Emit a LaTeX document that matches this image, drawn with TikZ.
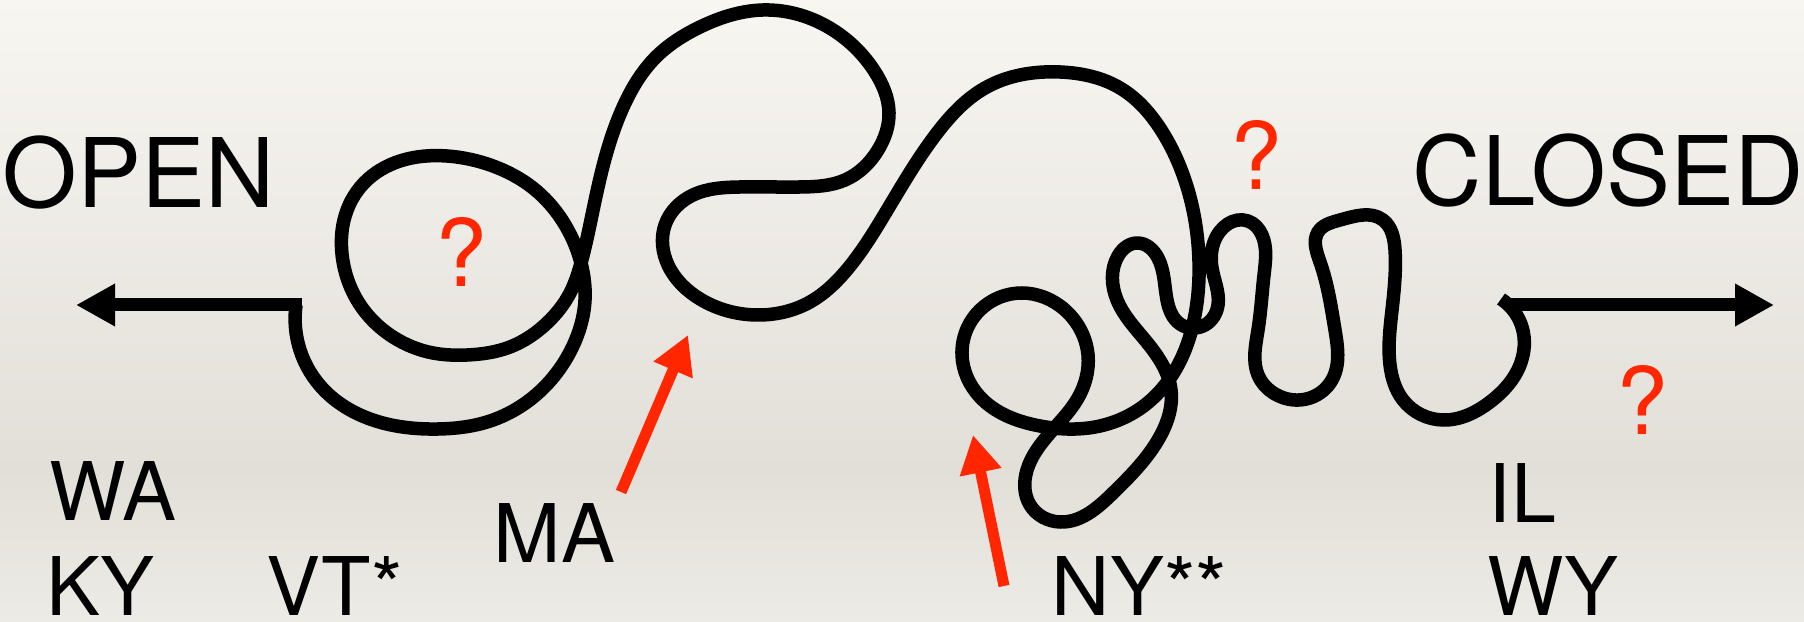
\documentclass[tikz,border=0pt]{standalone}
\usepackage{fontspec}
\setmainfont{TeX Gyre Heros}
\usetikzlibrary{arrows.meta,hobby}
\definecolor{qred}{RGB}{255,38,0}
\definecolor{bgtop}{RGB}{248,246,241}
\definecolor{bgmid}{RGB}{226,223,217}
\definecolor{bgbot}{RGB}{237,235,229}
\begin{document}
\begin{tikzpicture}[x=0.01cm,y=-0.01cm,
  scribble/.style={line width=0.135cm, line join=round, line cap=butt},
  blackarrow/.style={line width=0.13cm, -{Triangle[length=3.9mm,width=4mm]}},
  redarrow/.style={draw=qred, fill=qred, line width=0.11cm, -{Triangle[length=3.8mm,width=4mm]}},
  title/.style={anchor=base west, inner sep=0pt, font=\fontsize{27.3}{30}\selectfont},
  state/.style={anchor=base west, inner sep=0pt, font=\fontsize{23}{26}\selectfont},
  qmark/.style={anchor=base, inner sep=0pt, text=qred, font=\fontsize{26.5}{30}\selectfont}]
\useasboundingbox (0,0) rectangle (1804,622);
\shade[top color=bgtop, bottom color=bgmid] (0,0) rectangle (1804,470);
\shade[top color=bgmid, bottom color=bgbot] (0,469) rectangle (1804,622);

% end coordinates
\coordinate (openjoin) at (302,305);
\coordinate (opentip) at (76,305);
\coordinate (closedstart) at (1509,305);
\coordinate (closedtip) at (1774,305);
\coordinate (maTail) at (621,492);
\coordinate (maTip) at (688,335);
\coordinate (nyTail) at (1004,586);
\coordinate (nyTip) at (973,435);

% the scribble
\draw[scribble, use Hobby shortcut]
(296,305) .. (300,350) .. (324,390) .. (370,419) .. (438,429) .. (487,422)
.. (537,394) .. (572,348) .. (585,300) .. (581,263) .. (562,220) .. (533,188)
.. (493,166) .. (447,156) .. (400,161) .. (364,183) .. (344,220) .. (342,254)
.. (357,300) .. (393,337) .. (433,353) .. (467,355) .. (510,347) .. (547,323)
.. (570,293) .. (581,263) .. (592,215) .. (606,155) .. (625,103) .. (655,58)
.. (700,27) .. (763,10) .. (833,30) .. (875,72) .. (889,113) .. (878,150)
.. (845,180) .. (800,187) .. (740,187) .. (693,195) .. (665,225) .. (668,265)
.. (700,299) .. (760,315) .. (810,302) .. (845,272) .. (883,217) .. (937,133)
.. (985,88) .. (1060,72) .. (1120,88) .. (1163,133) .. (1188,190) .. (1199,262)
.. (1194,320) .. (1177,367) .. (1145,405) .. (1095,427) .. (1040,426) .. (980,397)
.. (962,355) .. (980,310) .. (1022,293) .. (1065,310) .. (1088,355) .. (1078,398)
.. (1050,433) .. (1027,470) .. (1030,505) .. (1060,522) .. (1113,493) .. (1158,440)
.. (1171,390) .. (1145,340) .. (1117,300) .. (1118,256) .. (1137,243) .. (1158,258)
.. (1167,300) .. (1180,324) .. (1205,325) .. (1218,305) .. (1212,268) .. (1214,242)
.. (1248,221) .. (1262,235) .. (1264,275) .. (1258,330) .. (1258,375) .. (1275,394)
.. (1310,398) .. (1333,378) .. (1335,330) .. (1320,262) .. (1318,232) .. (1340,220)
.. (1383,220) .. (1395,250) .. (1392,310) .. (1390,365) .. (1403,400) .. (1443,420)
.. (1490,402) .. (1520,365) .. (1522,327) .. (1501,299);

% black arrows
\draw[blackarrow] (openjoin) -- (opentip);
\draw[blackarrow] (closedstart) -- (closedtip);

% red arrows
\draw[redarrow] (maTail) -- (maTip);
\draw[redarrow] (nyTail) -- (nyTip);

% titles
\node[title] (open) at (2,208) {OPEN};
\node[title] (closed) at (1412,206) {CLOSED};

% question marks
\node[qmark] (q1) at (461,287) {?};
\node[qmark] (q2) at (1256,190) {?};
\node[qmark] (q3) at (1642,435) {?};

% state labels
\node[state] (wa) at (49,521) {WA};
\node[state] (ky) at (46,615) {KY};
\node[state] (vt) at (266,615) {VT*};
\node[state] (ma) at (493,562) {MA};
\node[state] (ny) at (1051,615) {NY**};
\node[state] (il) at (1488,522) {IL};
\node[state] (wy) at (1487,615) {WY};
\end{tikzpicture}
\end{document}
